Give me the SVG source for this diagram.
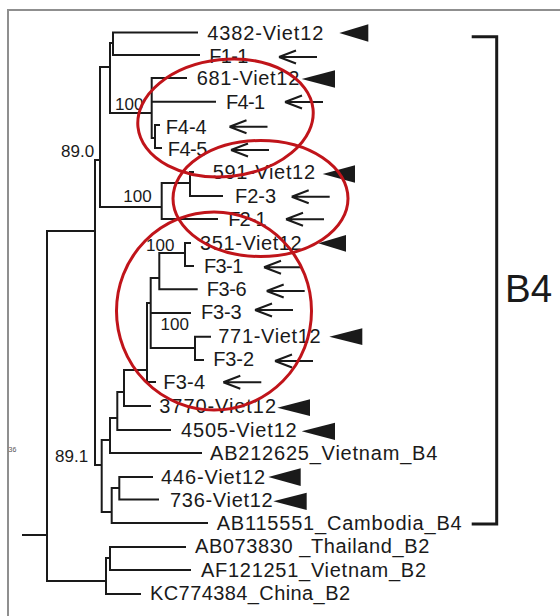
<svg xmlns="http://www.w3.org/2000/svg" xmlns:xlink="http://www.w3.org/1999/xlink" width="560" height="616" viewBox="0 0 560 616">
<style>
.lbl{font-family:"Liberation Sans",Arial,sans-serif;font-size:20px;fill:#1a1a1a}
.bs{font-family:"Liberation Sans",Arial,sans-serif;font-size:17px;fill:#1a1a1a}
.tree{fill:none;stroke:#1a1a1a;stroke-width:2;stroke-linecap:square}
.arr{fill:none;stroke:#1a1a1a;stroke-width:2}
.tri{fill:#1a1a1a}
.ring{fill:none;stroke:#c0141a;stroke-width:3}
.frame{fill:none;stroke:#8f8f8f;stroke-width:2}
</style>
<defs>
<path id="arrow" class="arr" d="M0,0 L17,-6.5 M0,0 L17,6.5 M0,0 H38"/>
</defs>
<rect width="560" height="616" fill="#ffffff"/>
<path class="frame" d="M8,616 V10 H560"/>
<text x="8.5" y="451.5" font-family="Liberation Sans,Arial,sans-serif" font-size="7" fill="#555">36</text>

<g id="connectors">
<path class="tree" d="M113,32.5 H197 M113,55 H199 M113,32.5 V55 M110,43 H113 M110,43 V113 M110,113 H151.7
M151.7,78 V138 M151.7,78 H186 M151.7,101.7 H215 M151.7,138 H155 M155,125 V148 M155,125 H159 M155,148 H161
M100,67 H110 M100,67 V207 M100,207 H161.7 M161.7,183 V219 M161.7,219 H217 M161.7,183 H190 M190,172 V196 M190,172 H193 M190,196 H222
M95,160 H100 M95,160 V465 M47,231 H95 M47,231 V581 M23,535 H47
M47,581 H106 M106,558 V594 M106,594 H140 M106,558 H110 M110,547 V570 M110,547 H185 M110,570 H190
M95,465 H101.7 M101.7,440 V512 M101.7,440 H110 M110,418 V453 M110,453 H201 M110,418 H117.3
M117.3,392 V430 M117.3,430 H170 M117.3,392 H124 M124,370 V406 M124,406 H150 M124,370 H147
M147,303 V382 M147,382 H155 M147,303 H150.7 M150.7,278 V348 M150.7,313 H190 M150.7,348 H195
M195,336.7 V360 M195,336.7 H210 M195,360 H203
M150.7,278 H159.3 M159.3,253 V289.3 M159.3,289.3 H196.7 M159.3,253 H185 M185,243 V266 M185,243 H190 M185,266 H193
M101.7,512 H111.7 M111.7,488 V523 M111.7,523 H207 M111.7,488 H119.3 M119.3,477 V499.5 M119.3,477 H152 M119.3,499.5 H158"/>
</g>

<g id="bootstrap">
<text class="bs" x="61" y="156.7">89.0</text>
<text class="bs" x="55" y="461.7">89.1</text>
<text class="bs" x="115" y="110">100</text>
<text class="bs" x="123.3" y="201.7">100</text>
<text class="bs" x="146" y="250.5">100</text>
<text class="bs" x="160.5" y="330">100</text>
</g>

<g id="n4382"><text class="lbl" x="207.3" y="39.5" textLength="116" lengthAdjust="spacing">4382-Viet12</text><polygon class="tri" points="339.3,33 368.3,24.3 368.3,41.7"/></g>
<g id="nF1-1"><text class="lbl" x="209.3" y="62.5" textLength="39" lengthAdjust="spacing">F1-1</text><use xlink:href="#arrow" x="279" y="57"/></g>
<g id="n681"><text class="lbl" x="196.7" y="85" textLength="102.6" lengthAdjust="spacing">681-Viet12</text><polygon class="tri" points="301.7,79 335,70.3 335,87.7"/></g>
<g id="nF4-1"><text class="lbl" x="226" y="108.7" textLength="39" lengthAdjust="spacing">F4-1</text><use xlink:href="#arrow" x="285" y="102"/></g>
<g id="nF4-4"><text class="lbl" x="165.7" y="133.5" textLength="41" lengthAdjust="spacing">F4-4</text><use xlink:href="#arrow" x="229.5" y="126.7"/></g>
<g id="nF4-5"><text class="lbl" x="167.7" y="156" textLength="39.6" lengthAdjust="spacing">F4-5</text><use xlink:href="#arrow" x="231" y="150"/></g>
<g id="n591"><text class="lbl" x="212.7" y="179" textLength="102.3" lengthAdjust="spacing">591-Viet12</text><polygon class="tri" points="322.7,174 355,165.3 355,182.7"/></g>
<g id="nF2-3"><text class="lbl" x="235" y="202.7" textLength="41" lengthAdjust="spacing">F2-3</text><use xlink:href="#arrow" x="291.7" y="196.7"/></g>
<g id="nF2-1"><text class="lbl" x="228.3" y="226" textLength="38.4" lengthAdjust="spacing">F2-1</text><use xlink:href="#arrow" x="286" y="219.3"/></g>
<g id="n351"><text class="lbl" x="200" y="250" textLength="101.7" lengthAdjust="spacing">351-Viet12</text><polygon class="tri" points="318.3,243.3 346,235 346,251.7"/></g>
<g id="nF3-1"><text class="lbl" x="204" y="272.5" textLength="39.3" lengthAdjust="spacing">F3-1</text><use xlink:href="#arrow" x="264" y="267.3"/></g>
<g id="nF3-6"><text class="lbl" x="206.7" y="296" textLength="40" lengthAdjust="spacing">F3-6</text><use xlink:href="#arrow" x="266.7" y="291"/></g>
<g id="nF3-3"><text class="lbl" x="201" y="319" textLength="40.7" lengthAdjust="spacing">F3-3</text><use xlink:href="#arrow" x="255" y="310"/></g>
<g id="n771"><text class="lbl" x="218.3" y="342.5" textLength="102.4" lengthAdjust="spacing">771-Viet12</text><polygon class="tri" points="329.3,336.7 362.3,328.3 362.3,345"/></g>
<g id="nF3-2"><text class="lbl" x="213.3" y="366" textLength="40.7" lengthAdjust="spacing">F3-2</text><use xlink:href="#arrow" x="275" y="361"/></g>
<g id="nF3-4"><text class="lbl" x="163.3" y="389" textLength="41.7" lengthAdjust="spacing">F3-4</text><use xlink:href="#arrow" x="223.3" y="382.3"/></g>
<g id="n3770"><text class="lbl" x="159.3" y="413" textLength="116.7" lengthAdjust="spacing">3770-Viet12</text><polygon class="tri" points="277.3,407.7 310,399.3 310,416"/></g>
<g id="n4505"><text class="lbl" x="181" y="437" textLength="115.7" lengthAdjust="spacing">4505-Viet12</text><polygon class="tri" points="301.7,431.3 335,422.7 335,440"/></g>
<g id="nAB212625"><text class="lbl" x="210" y="460" textLength="227.3" lengthAdjust="spacing">AB212625_Vietnam_B4</text></g>
<g id="n446"><text class="lbl" x="161" y="484" textLength="104" lengthAdjust="spacing">446-Viet12</text><polygon class="tri" points="268.3,477 300.7,468.3 300.7,486"/></g>
<g id="n736"><text class="lbl" x="170" y="507" textLength="102.7" lengthAdjust="spacing">736-Viet12</text><polygon class="tri" points="273.3,501.3 306.7,492.7 306.7,510"/></g>
<g id="nAB115551"><text class="lbl" x="216.7" y="530" textLength="245" lengthAdjust="spacing">AB115551_Cambodia_B4</text></g>
<g id="nAB073830"><text class="lbl" x="195" y="553" textLength="234.3" lengthAdjust="spacing">AB073830 _Thailand_B2</text></g>
<g id="nAF121251"><text class="lbl" x="201" y="576.5" textLength="225" lengthAdjust="spacing">AF121251_Vietnam_B2</text></g>
<g id="nKC774384"><text class="lbl" x="150" y="600" textLength="200" lengthAdjust="spacing">KC774384_China_B2</text></g>

<g id="clade-B4">
<path d="M471.7,36.7 H496.7 V524 H471.7" fill="none" stroke="#1a1a1a" stroke-width="3"/>
<text x="505" y="301.7" font-family="Liberation Sans,Arial,sans-serif" font-size="38.5" fill="#1a1a1a">B4</text>
</g>

<g id="highlights">
<ellipse class="ring" cx="225.5" cy="118" rx="88" ry="58.5" transform="rotate(-6 225.5 118)"/>
<ellipse class="ring" cx="260.5" cy="198.5" rx="87.5" ry="58"/>
<ellipse class="ring" cx="214" cy="311" rx="97.5" ry="99"/>
</g>
</svg>
